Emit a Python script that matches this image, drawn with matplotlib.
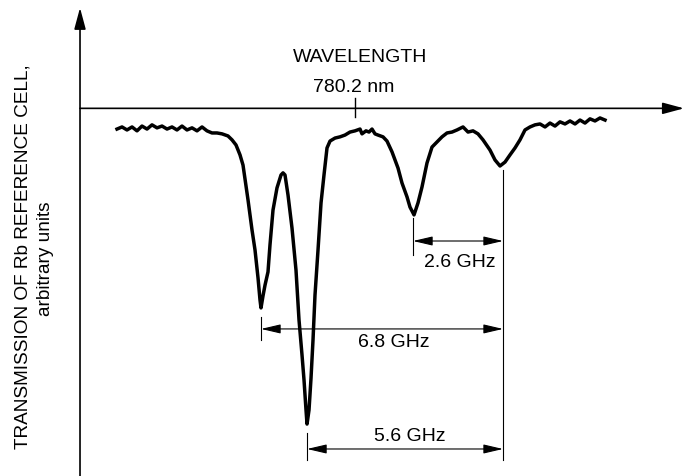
import matplotlib
matplotlib.use("Agg")
import matplotlib.pyplot as plt

plt.rcParams['font.family'] = ['Liberation Sans', 'DejaVu Sans']

# ---- data (frequency offset from 780.2 nm in GHz, transmission in arbitrary units) ----
freq_ghz = [-6.800, -6.657, -6.514, -6.371, -6.229, -6.086, -5.943, -5.800, -5.657, -5.514,
            -5.371, -5.229, -5.086, -4.943, -4.800, -4.657, -4.514, -4.371, -4.229, -4.086,
            -3.943, -3.800, -3.629, -3.514, -3.400, -3.286, -3.200, -3.057, -2.943, -2.857,
            -2.771, -2.714, -2.686, -2.629, -2.571, -2.486, -2.429, -2.343, -2.229, -2.114,
            -2.057, -2.000, -1.914, -1.800, -1.686, -1.600, -1.514, -1.457, -1.400, -1.371,
            -1.314, -1.257, -1.200, -1.143, -1.057, -0.971, -0.886, -0.800, -0.714, -0.571,
            -0.429, -0.286, -0.143, 0.000, 0.143, 0.200, 0.314, 0.400, 0.486, 0.571,
            0.657, 0.800, 0.914, 1.057, 1.229, 1.343, 1.486, 1.571, 1.686, 1.800,
            1.914, 2.057, 2.200, 2.343, 2.486, 2.629, 2.771, 2.914, 3.086, 3.229,
            3.371, 3.514, 3.657, 3.857, 4.000, 4.143, 4.286, 4.429, 4.571, 4.714,
            4.857, 5.000, 5.143, 5.286, 5.429, 5.571, 5.714, 5.857, 6.000, 6.143,
            6.286, 6.429, 6.571, 6.714, 6.857, 7.000, 7.143]
transmission = [1.003, 1.010, 1.000, 1.010, 0.997, 1.013, 1.003, 1.017, 1.007, 1.013,
                1.003, 1.010, 1.000, 1.013, 1.000, 1.007, 0.997, 1.010, 0.997, 0.990,
                0.990, 0.987, 0.980, 0.967, 0.950, 0.917, 0.883, 0.767, 0.667, 0.600,
                0.507, 0.433, 0.407, 0.447, 0.483, 0.527, 0.617, 0.733, 0.807, 0.850,
                0.857, 0.850, 0.783, 0.673, 0.533, 0.367, 0.250, 0.167, 0.067, 0.020,
                0.067, 0.173, 0.300, 0.450, 0.600, 0.757, 0.850, 0.940, 0.963, 0.973,
                0.977, 0.983, 0.993, 0.997, 1.003, 0.987, 0.997, 0.993, 1.003, 0.987,
                0.983, 0.977, 0.963, 0.927, 0.873, 0.823, 0.777, 0.743, 0.717, 0.757,
                0.810, 0.890, 0.943, 0.960, 0.977, 0.990, 0.993, 1.000, 1.010, 0.993,
                0.997, 0.987, 0.967, 0.933, 0.900, 0.880, 0.893, 0.917, 0.940, 0.967,
                1.000, 1.010, 1.017, 1.020, 1.010, 1.023, 1.013, 1.027, 1.020, 1.030,
                1.020, 1.033, 1.023, 1.037, 1.030, 1.040, 1.033]

# absorption line positions used for the dimension markers (GHz)
line_pos = [-2.686, -1.371, 1.657, 4.229]
spacing_labels = ["2.6 GHz", "6.8 GHz", "5.6 GHz"]
wavelength_label = "WAVELENGTH"
center_label = "780.2 nm"
ylabel_main = "TRANSMISSION OF Rb REFERENCE CELL,"
ylabel_sub = "arbitrary units"

# ---- figure ----
fig = plt.figure(figsize=(6.95, 4.76), dpi=100)
ax = fig.add_axes([0, 0, 1, 1])
ax.set_xlim(-10.143, 9.714)
ax.set_ylim(-0.153, 1.433)
ax.axis('off')

axis_x0 = -7.857   # y-axis position
axis_y0 = 1.072    # x-axis position

# axes with arrows
ax.annotate('', xy=(axis_x0, 1.407), xytext=(axis_x0, -0.153),
            arrowprops=dict(arrowstyle='-|>,head_length=1.3,head_width=0.35',
                            lw=1.2, color='black', shrinkA=0, shrinkB=0,
                            mutation_scale=10))
ax.annotate('', xy=(9.4, axis_y0), xytext=(axis_x0, axis_y0),
            arrowprops=dict(arrowstyle='-|>,head_length=1.3,head_width=0.35',
                            lw=1.2, color='black', shrinkA=0, shrinkB=0,
                            mutation_scale=10))
# tick at 780.2 nm
ax.plot([0, 0], [1.043, 1.107], color='black', lw=1.0)

# spectrum
ax.plot(freq_ghz, transmission, color='black', lw=2.5, solid_joinstyle='round')

# dimension lines
thin = dict(color='black', lw=0.8)
ax.plot([line_pos[3], line_pos[3]], [0.867, -0.1], **thin)
ax.plot([line_pos[2], line_pos[2]], [0.707, 0.583], **thin)
ax.plot([line_pos[0], line_pos[0]], [0.377, 0.300], **thin)
ax.plot([line_pos[1], line_pos[1]], [-0.010, -0.100], **thin)

arr = dict(arrowstyle='<|-|>,head_length=1.2,head_width=0.28', lw=0.8,
           color='black', shrinkA=0, shrinkB=0, mutation_scale=10)
ax.annotate('', xy=(line_pos[2], 0.630), xytext=(line_pos[3], 0.630), arrowprops=arr)
ax.annotate('', xy=(line_pos[0], 0.337), xytext=(line_pos[3], 0.337), arrowprops=arr)
ax.annotate('', xy=(line_pos[1], -0.063), xytext=(line_pos[3], -0.063), arrowprops=arr)

fs = 14
ax.text(3.0, 0.56, spacing_labels[0], ha='center', va='center', fontsize=fs)
ax.text(1.114, 0.293, spacing_labels[1], ha='center', va='center', fontsize=fs)
ax.text(1.571, -0.02, spacing_labels[2], ha='center', va='center', fontsize=fs)
ax.text(0.143, 1.243, wavelength_label, ha='center', va='center', fontsize=fs)
ax.text(-0.03, 1.143, center_label, ha='center', va='center', fontsize=fs)
ax.text(-9.5, 0.578, ylabel_main, ha='center', va='center', rotation=90, fontsize=13.7)
ax.text(-8.83, 0.57, ylabel_sub, ha='center', va='center', rotation=90, fontsize=13.7)

fig.savefig('out.png', dpi=100)
